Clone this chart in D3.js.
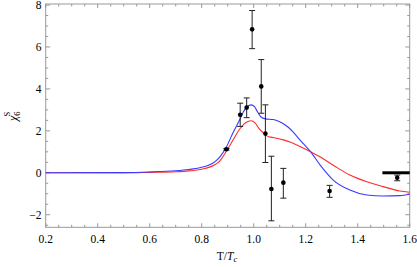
<html>
<head>
<script src="https://d3js.org/d3.v7.min.js"></script>
<style>
body { margin: 0; background: #fff; }
text { font-family: 'Liberation Serif', 'DejaVu Serif', serif; }
</style>
</head>
<body>
<div id="plot"></div>
<script>

var width = 417;
var height = 267;

// curve samples
var blueX = [0.20, 0.50, 0.60, 0.70, 0.75, 0.80, 0.85, 0.87, 0.895, 0.92, 0.947, 0.96, 0.975, 0.99, 1.003, 1.015, 1.028, 1.045, 1.075, 1.10, 1.114, 1.133, 1.152, 1.17, 1.191, 1.217, 1.255, 1.28, 1.306, 1.37, 1.435, 1.498, 1.562, 1.60];
var blueY = [0, 0.01, 0.04, 0.10, 0.16, 0.26, 0.52, 0.76, 1.23, 1.90, 2.55, 2.90, 3.15, 3.24, 3.15, 2.90, 2.66, 2.57, 2.54, 2.43, 2.34, 2.17, 1.94, 1.68, 1.39, 1.03, 0.38, 0.0, -0.35, -0.82, -1.06, -1.11, -1.09, -1.02];

var redX = [0.20, 0.50, 0.60, 0.70, 0.75, 0.80, 0.85, 0.87, 0.895, 0.92, 0.947, 0.97, 0.99, 1.005, 1.02, 1.037, 1.05, 1.065, 1.088, 1.114, 1.14, 1.178, 1.217, 1.255, 1.306, 1.37, 1.435, 1.498, 1.562, 1.60];
var redY = [0, 0, 0.02, 0.05, 0.09, 0.17, 0.38, 0.57, 1.03, 1.55, 2.10, 2.40, 2.48, 2.38, 2.12, 1.90, 1.76, 1.70, 1.65, 1.57, 1.47, 1.25, 1.01, 0.76, 0.36, -0.11, -0.43, -0.66, -0.87, -0.93];

// lattice points with error bars
var ptX  = [0.895, 0.948, 0.973, 0.994, 1.029, 1.045, 1.068, 1.114, 1.292, 1.552];
var ptY  = [1.12, 2.77, 3.11, 6.84, 4.12, 1.87, -0.77, -0.47, -0.87, -0.24];
var ptLo = [1.08, 2.21, 2.63, 5.92, 2.84, 0.49, -2.29, -1.21, -1.17, -0.38];
var ptHi = [1.16, 3.32, 3.57, 7.74, 5.40, 3.24, 0.79, 0.21, -0.60, -0.11];

// thick band at high T
var bandX = [1.495, 1.6];
var bandY = 0;

var xTicks = [0.2, 0.4, 0.6, 0.8, 1.0, 1.2, 1.4, 1.6];
var yTicks = [-2, 0, 2, 4, 6, 8];

var x = d3.scaleLinear().domain([0.2, 1.6]).range([45.7, 409.7]);
var y = d3.scaleLinear().domain([-2.6, 8.05]).range([227.3, 4]);

var svg = d3.select("#plot").append("svg").attr("width", width).attr("height", height);

var frameColor = "#999";

// frame
svg.append("rect")
  .attr("x", x(0.2)).attr("y", y(8.05))
  .attr("width", x(1.6) - x(0.2)).attr("height", y(-2.6) - y(8.05))
  .style("fill", "none").style("stroke", frameColor).style("stroke-width", 1);

// ticks on all four sides
var xMinor = d3.range(0.25, 1.6, 0.05).filter(function(v) { return Math.abs(v * 5 - Math.round(v * 5)) > 1e-6; });
var yMinor = d3.range(-2.5, 8.01, 0.5).filter(function(v) { return Math.abs(v / 2 - Math.round(v / 2)) > 1e-6; });

function xTick(v, len) {
  svg.append("line").attr("x1", x(v)).attr("x2", x(v)).attr("y1", y(-2.6)).attr("y2", y(-2.6) - len).style("stroke", frameColor);
  svg.append("line").attr("x1", x(v)).attr("x2", x(v)).attr("y1", y(8.05)).attr("y2", y(8.05) + len).style("stroke", frameColor);
}
function yTick(v, len) {
  svg.append("line").attr("x1", x(0.2)).attr("x2", x(0.2) + len).attr("y1", y(v)).attr("y2", y(v)).style("stroke", frameColor);
  svg.append("line").attr("x1", x(1.6)).attr("x2", x(1.6) - len).attr("y1", y(v)).attr("y2", y(v)).style("stroke", frameColor);
}
xTicks.forEach(function(v) { xTick(v, 4); });
xMinor.forEach(function(v) { xTick(v, 2.5); });
yTicks.forEach(function(v) { yTick(v, 4.5); });
yMinor.forEach(function(v) { yTick(v, 2.5); });

svg.selectAll(".xlab").data(xTicks).enter().append("text")
  .attr("class", "xlab")
  .attr("x", function(d) { return x(d); })
  .attr("y", 242.5)
  .attr("text-anchor", "middle")
  .style("font-size", "11.5px")
  .text(function(d) { return d.toFixed(1); });

svg.selectAll(".ylab").data(yTicks).enter().append("text")
  .attr("class", "ylab")
  .attr("x", 41.5)
  .attr("y", function(d) { return y(d); })
  .attr("dy", "0.35em")
  .attr("text-anchor", "end")
  .style("font-size", "11.5px")
  .text(function(d) { return d < 0 ? "\u2212" + Math.abs(d) : d; });

// axis titles
var xt = svg.append("text").attr("x", 227).attr("y", 260).attr("text-anchor", "middle").style("font-size", "11.5px");
xt.append("tspan").text("T/");
xt.append("tspan").style("font-style", "italic").text("T");
xt.append("tspan").style("font-style", "italic").style("font-size", "8.5px").attr("dy", 2).text("c");

var yt = svg.append("text").attr("transform", "translate(17,121) rotate(-90)").style("font-size", "12px");
yt.append("tspan").style("font-style", "italic").text("\u03c7");
yt.append("tspan").style("font-size", "8.5px").attr("dy", 3).text("6");
yt.append("tspan").style("font-size", "8.5px").attr("dx", -5).attr("dy", -10).text("S");

// curves
var line = d3.line()
  .x(function(d) { return x(d[0]); })
  .y(function(d) { return y(d[1]); })
  .curve(d3.curveMonotoneX);

svg.append("path").datum(d3.zip(redX, redY)).attr("d", line)
  .style("fill", "none").style("stroke", "#ff2b2b").style("stroke-width", 1.1);
svg.append("path").datum(d3.zip(blueX, blueY)).attr("d", line)
  .style("fill", "none").style("stroke", "#3a3aff").style("stroke-width", 1.1);

// band
svg.append("line")
  .attr("x1", x(bandX[0])).attr("x2", x(bandX[1]))
  .attr("y1", y(bandY)).attr("y2", y(bandY))
  .style("stroke", "#000").style("stroke-width", 3);

// points + error bars
var pts = ptX.map(function(v, i) { return { x: v, y: ptY[i], lo: ptLo[i], hi: ptHi[i] }; });
var g = svg.selectAll(".pt").data(pts).enter().append("g").attr("class", "pt");
g.append("line")
  .attr("x1", function(d) { return x(d.x); }).attr("x2", function(d) { return x(d.x); })
  .attr("y1", function(d) { return y(d.lo); }).attr("y2", function(d) { return y(d.hi); })
  .style("stroke", "#222").style("stroke-width", 1);
g.append("line")
  .attr("x1", function(d) { return x(d.x) - 3; }).attr("x2", function(d) { return x(d.x) + 3; })
  .attr("y1", function(d) { return y(d.lo); }).attr("y2", function(d) { return y(d.lo); })
  .style("stroke", "#222").style("stroke-width", 1);
g.append("line")
  .attr("x1", function(d) { return x(d.x) - 3; }).attr("x2", function(d) { return x(d.x) + 3; })
  .attr("y1", function(d) { return y(d.hi); }).attr("y2", function(d) { return y(d.hi); })
  .style("stroke", "#222").style("stroke-width", 1);
g.append("circle")
  .attr("cx", function(d) { return x(d.x); })
  .attr("cy", function(d) { return y(d.y); })
  .attr("r", 2.3)
  .style("fill", "#000");

</script>
</body>
</html>
